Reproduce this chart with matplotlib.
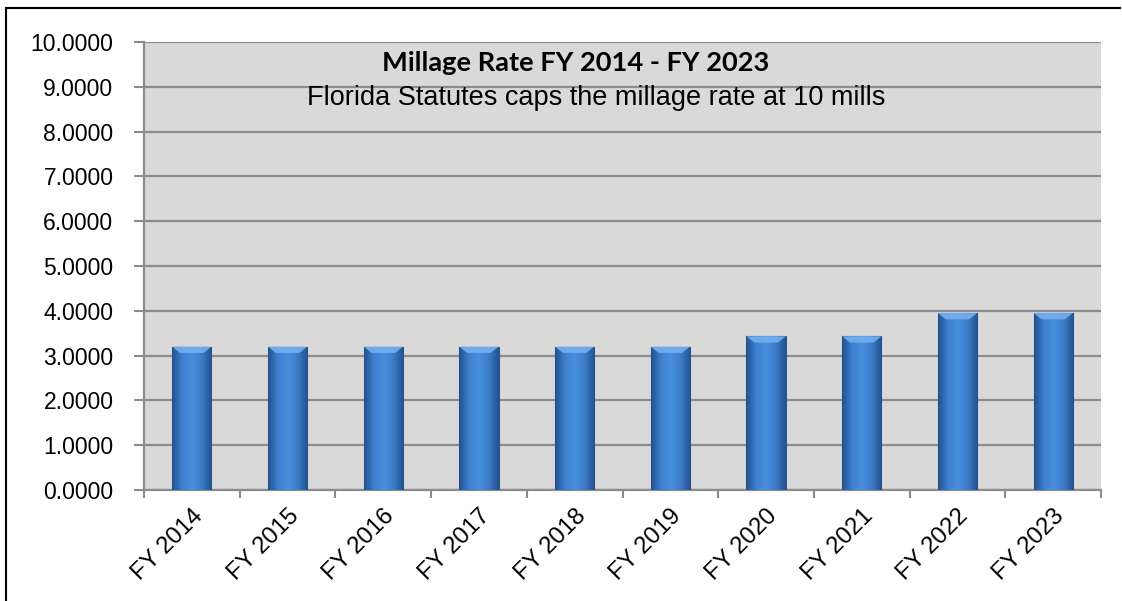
import numpy as np
import matplotlib.pyplot as plt
from matplotlib.colors import LinearSegmentedColormap
from matplotlib.lines import Line2D

years = ['FY 2014', 'FY 2015', 'FY 2016', 'FY 2017', 'FY 2018',
         'FY 2019', 'FY 2020', 'FY 2021', 'FY 2022', 'FY 2023']
millage = [3.2, 3.2, 3.2, 3.2, 3.2, 3.2, 3.43, 3.43, 3.95, 3.95]
yticks = [0, 1, 2, 3, 4, 5, 6, 7, 8, 9, 10]

plt.rcParams['font.family'] = ['Liberation Sans', 'DejaVu Sans']

fig = plt.figure(figsize=(11.22, 6.01), dpi=100)
ax = fig.add_axes([144 / 1122, 1 - 490 / 601, 957 / 1122, 448 / 601])
ax.set_facecolor('#d9d9d9')

x = np.arange(len(years))
bars = ax.bar(x, millage, width=0.41, color='#3a7cc8', edgecolor='#2a5a94',
              linewidth=0.8, zorder=3)

# horizontal shading inside each bar, plus a light bevel at the top
shade = LinearSegmentedColormap.from_list(
    'bar', ['#24528c', '#3c80cf', '#4a8fdc', '#3a7cc8', '#24528c'])
grad = np.linspace(0, 1, 64).reshape(1, -1)
for b in bars:
    x0, w, h = b.get_x(), b.get_width(), b.get_height()
    im = ax.imshow(grad, cmap=shade, aspect='auto', zorder=3.5,
                   extent=[x0, x0 + w, 0, h], interpolation='bicubic')
    im.set_clip_path(b)
    bev = 0.14
    ax.fill([x0, x0 + w, x0 + w * 0.8, x0 + w * 0.2],
            [h, h, h - bev, h - bev], color='#74b0ef', alpha=0.9,
            lw=0, zorder=4)

ax.set_xlim(-0.5, len(years) - 0.5)
ax.set_ylim(0, 10)
ax.set_yticks(yticks)
ax.set_yticklabels([f'{v:.4f}' for v in yticks], fontsize=16.5)
ax.yaxis.grid(True, color='#8c8c8c', linewidth=1.6, zorder=1)
ax.set_axisbelow(True)

ax.set_xticks(x)
ax.set_xticklabels(years, rotation=45, ha='right', rotation_mode='anchor',
                   fontsize=17.3)
ax.tick_params(axis='x', length=0, pad=11)
ax.set_xticks(np.arange(-0.5, len(years)), minor=True)
ax.tick_params(axis='x', which='minor', length=6, width=1.5, color='#8c8c8c')
ax.tick_params(axis='y', length=7, width=1.5, color='#8c8c8c', pad=15)

for side in ['top', 'right']:
    ax.spines[side].set_visible(False)
for side in ['left', 'bottom']:
    ax.spines[side].set_color('#8c8c8c')
    ax.spines[side].set_linewidth(1.6)

ax.text(0.451, 0.953, 'Millage Rate FY 2014 - FY 2023', transform=ax.transAxes,
        ha='center', va='center', fontsize=19.6, fontweight='bold',
        family=['Lato', 'DejaVu Sans'])
ax.text(0.473, 0.874, 'Florida Statutes caps the millage rate at 10 mills',
        transform=ax.transAxes, ha='center', va='center', fontsize=19.5)

# chart frame along the top and left edges
fig.add_artist(Line2D([6 / 1122, 1120 / 1122], [1 - 8 / 601, 1 - 8 / 601],
                      color='black', lw=1.5))
fig.add_artist(Line2D([6 / 1122, 6 / 1122], [0, 1 - 8 / 601],
                      color='black', lw=1.5))

fig.savefig('out.png', dpi=100)
